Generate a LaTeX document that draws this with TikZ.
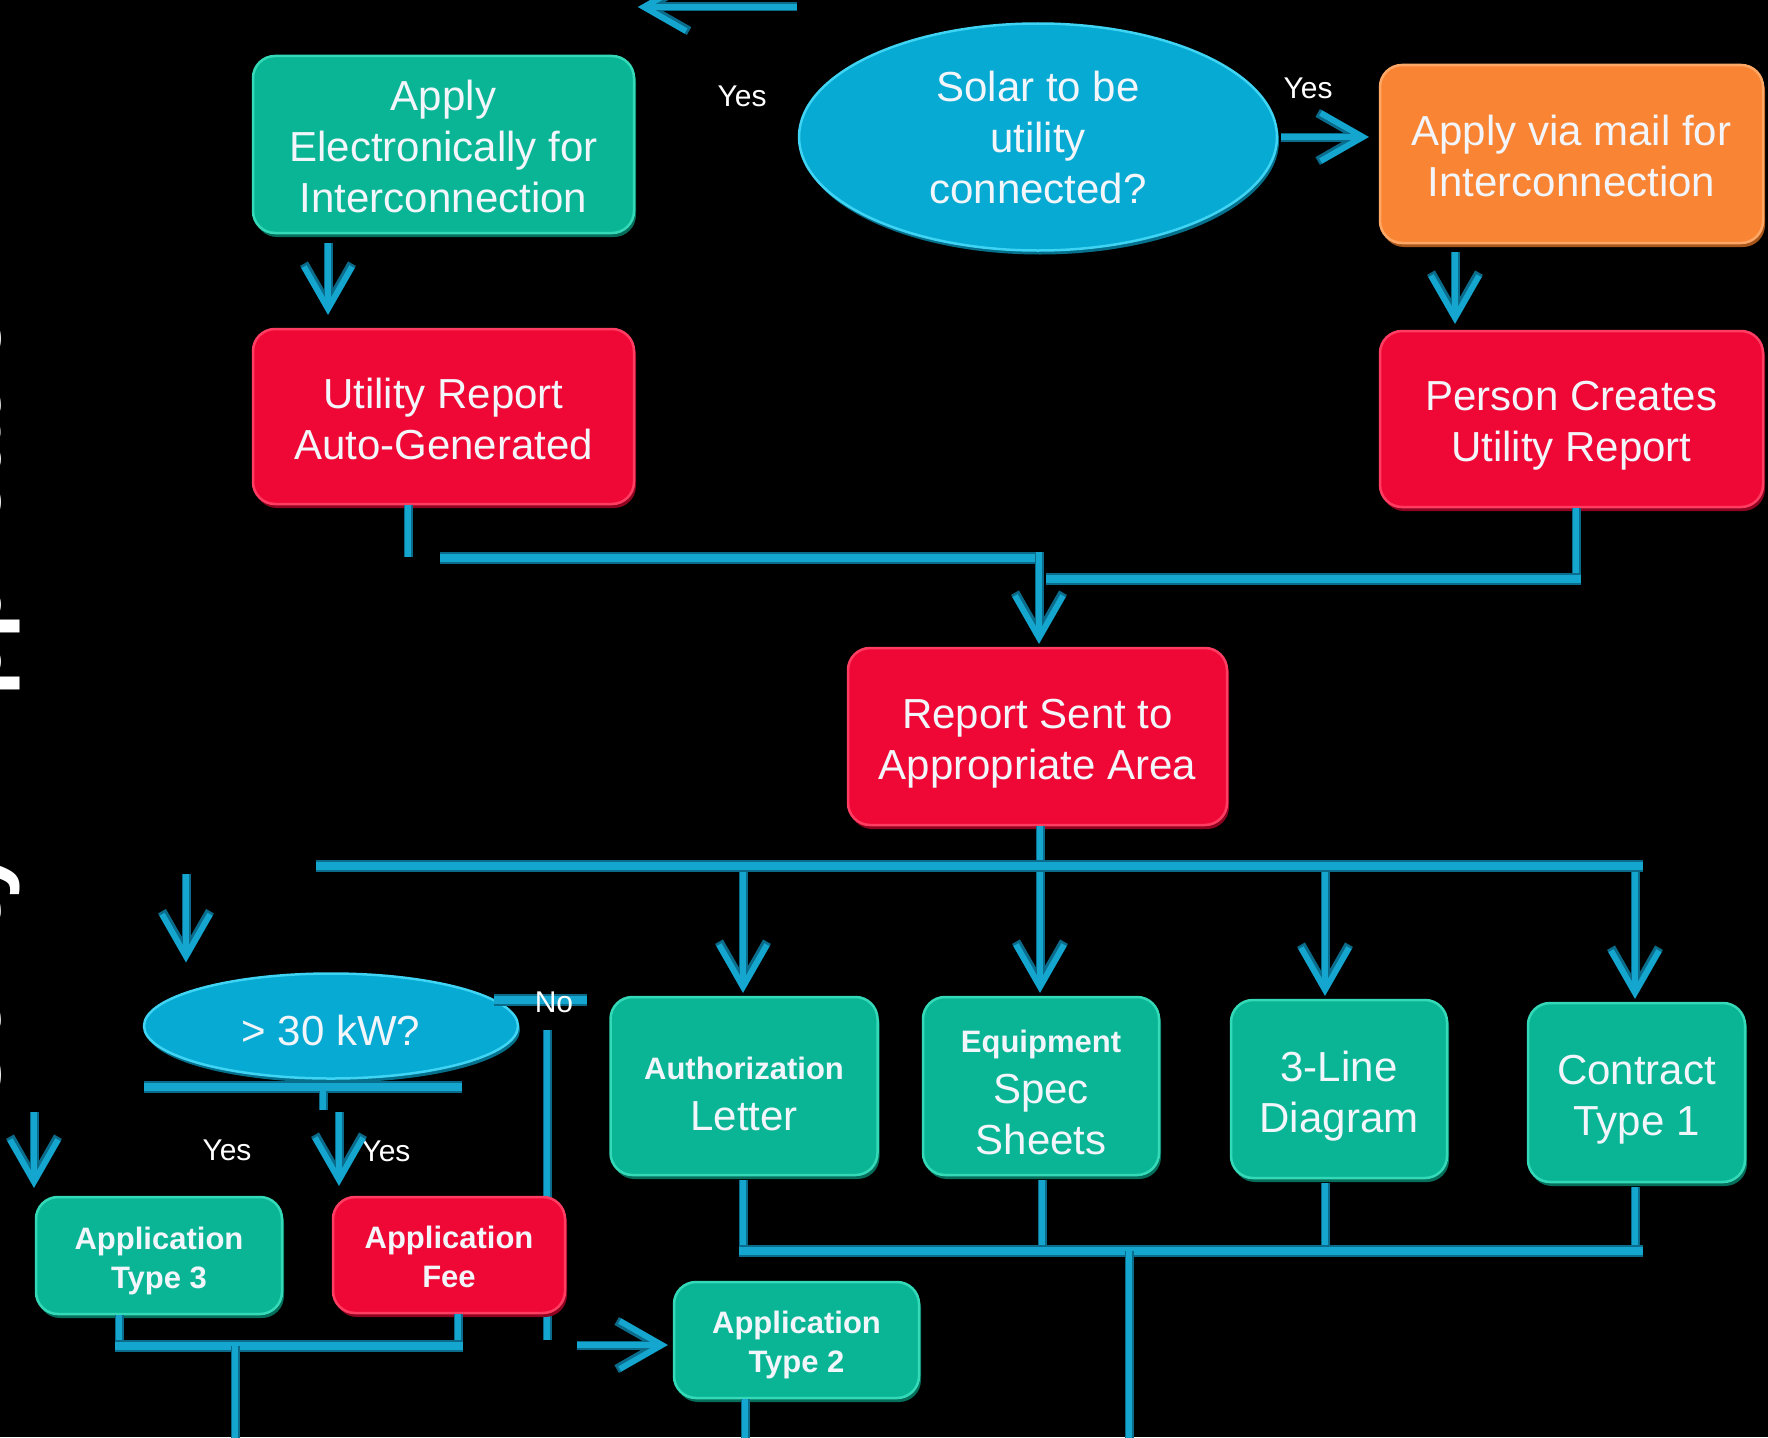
\documentclass[tikz,border=0pt]{standalone}
\usepackage{fontspec}
\setmainfont{Liberation Sans}
\usetikzlibrary{arrows.meta,shapes.geometric,calc}

\definecolor{boxgreen}{HTML}{0AB596}
\definecolor{boxgreenedge}{HTML}{066F5C}
\definecolor{boxgreenlight}{HTML}{34D9B8}
\definecolor{boxred}{HTML}{EF0835}
\definecolor{boxrededge}{HTML}{8E0420}
\definecolor{boxredlight}{HTML}{FF3D62}
\definecolor{boxorange}{HTML}{F98434}
\definecolor{boxorangeedge}{HTML}{A9561C}
\definecolor{boxorangelight}{HTML}{FFA866}
\definecolor{decblue}{HTML}{07AAD2}
\definecolor{decblueedge}{HTML}{04708C}
\definecolor{decbluelight}{HTML}{3FD4F4}
\definecolor{pipelight}{HTML}{14A6CF}
\definecolor{pipedark}{HTML}{0A6C8A}
\definecolor{labeltext}{HTML}{F2F5FA}

\newcommand{\bodyfont}{\fontsize{42pt}{51pt}\selectfont}
\newcommand{\boldfont}{\fontsize{31pt}{51pt}\selectfont\bfseries}
\newcommand{\appfont}{\fontsize{31pt}{39pt}\selectfont\bfseries}

\tikzset{
  flowbox/.style={rectangle, rounded corners=22pt, inner sep=0pt, line width=2.5pt},
  gbox/.style={flowbox, fill=boxgreen, draw=boxgreenlight,
    preaction={fill=boxgreenedge, transform canvas={xshift=2pt,yshift=-4pt}}},
  rbox/.style={flowbox, fill=boxred, draw=boxredlight,
    preaction={fill=boxrededge, transform canvas={xshift=2pt,yshift=-4pt}}},
  obox/.style={flowbox, fill=boxorange, draw=boxorangelight,
    preaction={fill=boxorangeedge, transform canvas={xshift=2pt,yshift=-4pt}}},
  decision/.style={ellipse, inner sep=0pt, fill=decblue, draw=decbluelight, line width=2.5pt,
    preaction={fill=decblueedge, transform canvas={xshift=2pt,yshift=-4pt}}},
  txt/.style={inner sep=0pt, align=center, text=labeltext, font=\bodyfont},
  lab/.style={inner sep=0pt, text=white, font=\fontsize{30pt}{36pt}\selectfont},
  pipe/.style={draw=pipelight, line width=6pt,
    preaction={draw=pipedark, line width=9pt}},
  bar/.style={draw=pipelight, line width=8pt,
    preaction={draw=pipedark, line width=12pt}},
  arr/.style={pipe, -{Straight Barb[length=42pt,width=48pt]}},
}

\begin{document}
\begin{tikzpicture}[x=1pt,y=-1pt]
\useasboundingbox (0,0) rectangle (1768,1437);
\fill[black] (0,0) rectangle (1768,1437);

% side title running up the left edge
\node[rotate=90, anchor=base west, inner sep=0pt, text=white,
  font=\fontsize{94pt}{94pt}\selectfont\bfseries] (sidetitle) at (1,1109)
  {Utility\hspace*{83pt}Application};

% ---------- upper part ----------
\coordinate (topR) at (797,7);
\coordinate (topL) at (638,7);
\draw[arr] (topR) -- (topL);

\node[gbox, minimum width=381pt, minimum height=177pt] (elec) at (443.5,144.5) {};
\node[txt] (elecT) at ($(elec)+(0,2)$) {Apply\\Electronically for\\Interconnection};
\node[decision, minimum width=478pt, minimum height=227pt] (solar) at (1038,137) {};
\node[txt] (solarT) at ($(solar)+(0,0)$) {Solar to be\\utility\\connected?};
\node[obox, minimum width=383pt, minimum height=178pt] (mail) at (1571.5,154) {};
\node[txt] (mailT) at ($(mail)+(0,2)$) {Apply via mail for\\Interconnection};
\node[rbox, minimum width=381pt, minimum height=175pt] (autogen) at (443.5,416.5) {};
\node[txt] (autogenT) at ($(autogen)+(0,2)$) {Utility Report\\Auto-Generated};
\node[rbox, minimum width=383pt, minimum height=176pt] (person) at (1571.5,419) {};
\node[txt] (personT) at ($(person)+(0,7)$) {Person Creates\\Utility Report};
\node[rbox, minimum width=379pt, minimum height=177pt] (sent) at (1037.5,736.5) {};
\node[txt] (sentT) at ($(sent)+(0,7)$) {Report Sent to\\Appropriate Area};

\node[lab] (yes1) at (742,96) {Yes};
\node[lab] (yes2) at (1308,88) {Yes};

\draw[arr] ($(solar.east)+(3,0)$) -- ($(mail.west |- solar.east)+(-10,0)$);
\draw[arr] ($(elec.south)+(-115.5,9)$) -- ($(autogen.north)+(-115.5,-13)$);
\draw[arr] ($(mail.south)+(-116.5,8)$) -- ($(person.north)+(-116.5,-6)$);

% joining the two reports
\coordinate (jL) at (440,558);
\coordinate (jM) at (1042,558);
\coordinate (jM2) at (1046,579);
\coordinate (jR) at (1581,579);
\draw[pipe] ($(autogen.south)+(-35.5,0)$) -- ($(autogen.south)+(-35.5,52)$);
\draw[bar] (jL) -- (jM);
\draw[pipe] ($(person.south)+(4.5,0)$) -- ($(person.south)+(4.5,73)$);
\draw[bar] (jM2) -- (jR);
\draw[arr] (1039,552) -- ($(sent.north)+(1.5,-3)$);

% ---------- middle distribution ----------
\coordinate (dL) at (316,866);
\coordinate (dR) at (1643,866);
\draw[pipe] ($(sent.south)+(2.5,0)$) -- ($(sent.south)+(2.5,41)$);
\draw[bar] (dL) -- (dR);

\node[gbox, minimum width=267pt, minimum height=178pt] (auth) at (744,1086) {};
\node[txt] (authT) at ($(auth)+(0,8)$) {{\boldfont Authorization}\\Letter};
\node[gbox, minimum width=236pt, minimum height=178pt] (equip) at (1041,1086) {};
\node[txt] (equipT) at ($(equip)+(0,6)$) {{\boldfont Equipment}\\Spec\\Sheets};
\node[gbox, minimum width=216pt, minimum height=178pt] (line3) at (1339,1089) {};
\node[txt] (line3T) at ($(line3)+(0,7)$) {3-Line\\Diagram};
\node[gbox, minimum width=217pt, minimum height=179pt] (contract) at (1636.5,1092.5) {};
\node[txt] (contractT) at ($(contract)+(0,7)$) {Contract\\Type 1};

\draw[arr] (743,872) -- ($(auth.north)+(-1,-3)$);
\draw[arr] (1040,872) -- ($(equip.north)+(-1,-3)$);
\draw[arr] (1325,872) -- ($(line3.north)+(-14,-3)$);
\draw[arr] (1635,872) -- ($(contract.north)+(-1.5,-3)$);

% ---------- size check ----------
\coordinate (kwIn) at (186,874);
\node[decision, minimum width=374pt, minimum height=105pt] (kw) at (331,1026) {};
\node[txt] (kwT) at ($(kw)+(0,4)$) {> 30 kW?};
\draw[arr] (kwIn) -- ($(kw.north -| kwIn)+(0,-10)$);

\coordinate (kbL) at (144,1087);
\coordinate (kbR) at (462,1087);
\draw[bar] (kbL) -- (kbR);
\draw[pipe] (323,1091) -- (323,1110);

% "No" branch, passing behind the fee box
\coordinate (noA) at (494,1000);
\coordinate (noB) at (587,1000);
\draw[bar] (noA) -- (noB);
\coordinate (noT) at (547,1030);
\coordinate (noU) at (547,1340);
\draw[pipe] (noT) -- (noU);

\node[gbox, minimum width=246pt, minimum height=117pt] (type3) at (159,1255.5) {};
\node[txt, font=\appfont] (type3T) at ($(type3)+(0,5)$) {Application\\Type 3};
\node[rbox, minimum width=232pt, minimum height=116pt] (fee) at (449,1255) {};
\node[txt, font=\appfont] (feeT) at ($(fee)+(0,2)$) {Application\\Fee};
\node[gbox, minimum width=245pt, minimum height=116pt] (type2) at (796.5,1340) {};
\node[txt, font=\appfont] (type2T) at ($(type2)+(0,5)$) {Application\\Type 2};

\node[lab] (no) at (554,1002) {No};
\node[lab] (yes3) at (227,1150) {Yes};
\node[lab] (yes4) at (386,1151) {Yes};

\draw[arr] (34,1112) -- ($(type3.north -| 34,0)+(0,-8)$);
\draw[arr] (339,1112) -- ($(fee.north -| 339,0)+(0,-10)$);
\draw[arr] (577,1345) -- ($(type2.west |- 0,1345)+(-5,0)$);

% ---------- lower joins ----------
\coordinate (lbL) at (115,1346);
\coordinate (lbR) at (463,1346);
\draw[pipe] ($(type3.south -| 119,0)$) -- (119,1346);
\draw[pipe] ($(fee.south -| 458,0)$) -- (458,1346);
\draw[bar] (lbL) -- (lbR);
\draw[pipe] (235,1346) -- (235,1445);
\draw[pipe] (type2.south -| 745,0) -- (745,1445);

\coordinate (rbL) at (739,1251);
\coordinate (rbR) at (1643,1251);
\draw[pipe] ($(auth.south -| 743,0)+(0,4)$) -- (743,1251);
\draw[pipe] ($(equip.south -| 1042,0)+(0,4)$) -- (1042,1251);
\draw[pipe] ($(line3.south -| 1325,0)+(0,4)$) -- (1325,1251);
\draw[pipe] ($(contract.south -| 1635,0)+(0,4)$) -- (1635,1251);
\draw[bar] (rbL) -- (rbR);
\draw[pipe] (1129,1251) -- (1129,1445);
\end{tikzpicture}
\end{document}
